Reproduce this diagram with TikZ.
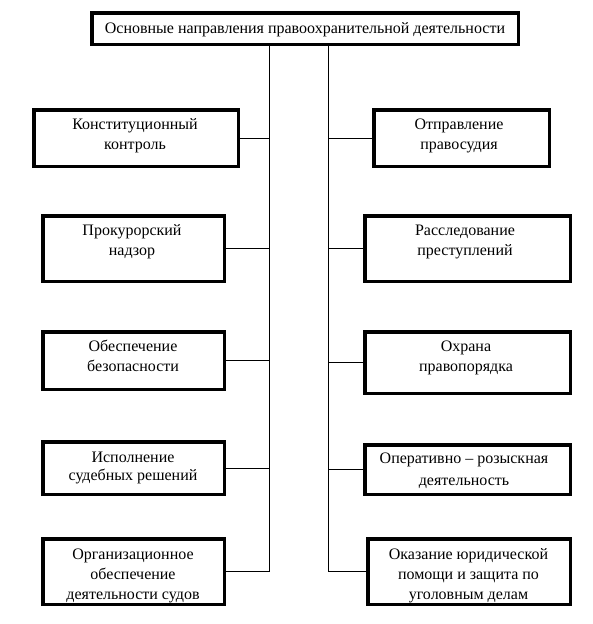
\documentclass[tikz,border=0pt]{standalone}
\usepackage{fontspec}
\setmainfont{Liberation Serif}
\begin{document}
\begin{tikzpicture}[x=1pt,y=-1pt,
  box/.style={draw, line width=3.5pt, inner sep=0pt},
  lbl/.style={align=center, inner sep=0pt, font=\fontsize{16}{20}\selectfont, anchor=north},
  con/.style={line width=1pt}]
\useasboundingbox[fill=white] (0,0) rectangle (592,624);
% boxes
\node[box, minimum width=426.5pt, minimum height=31.5pt] (top) at (305,28.5) {};
\node[box, minimum width=204.5pt, minimum height=56.5pt] (L1) at (136,138) {};
\node[box, minimum width=181.5pt, minimum height=65.5pt] (L2) at (133.5,248.5) {};
\node[box, minimum width=181.5pt, minimum height=57.5pt] (L3) at (133.5,360.5) {};
\node[box, minimum width=181.5pt, minimum height=52.5pt] (L4) at (133.5,468) {};
\node[box, minimum width=181.5pt, minimum height=65.5pt] (L5) at (133.5,571.5) {};
\node[box, minimum width=175.5pt, minimum height=56.5pt] (R1) at (461.5,138) {};
\node[box, minimum width=205.5pt, minimum height=65.5pt] (R2) at (467.5,248.5) {};
\node[box, minimum width=205.5pt, minimum height=61.5pt] (R3) at (467.5,362.5) {};
\node[box, minimum width=205.5pt, minimum height=49.5pt] (R4) at (467.5,469.5) {};
\node[box, minimum width=202.5pt, minimum height=65.5pt] (R5) at (469,571.5) {};
% texts
\node[lbl] (tT) at (305,19.5) {\strut Основные направления правоохранительной деятельности};
\node[lbl] (tL1) at (135,115) {\strut Конституционный\\контроль};
\node[lbl] (tL2) at (132,221) {\strut Прокурорский\\надзор};
\node[lbl] (tL3) at (133,337) {\strut Обеспечение\\безопасности};
\node[lbl] (tL4) at (133,448.5) {\strut Исполнение\\[-2pt]судебных решений};
\node[lbl] (tL5) at (133,545.5) {\strut Организационное\\обеспечение\\деятельности судов};
\node[lbl] (tR1) at (459,115) {\strut Отправление\\правосудия};
\node[lbl] (tR2) at (465,221) {\strut Расследование\\преступлений};
\node[lbl] (tR3) at (466,337) {\strut Охрана\\правопорядка};
\node[lbl] (tR4) at (464,449.5) {\strut Оперативно – розыскная\\[2pt]деятельность};
\node[lbl] (tR5) at (468.5,545.5) {\strut Оказание юридической\\помощи и защита по\\уголовным делам};
% trunks
\coordinate (lb) at (269,571.5);
\coordinate (rb) at (328,571.5);
\draw[con] (top.south -| lb) -- (lb);
\draw[con] (top.south -| rb) -- (rb);
% branches
\foreach \n in {L1,L2,L3,L4,L5} \draw[con] (\n.east) -- (\n.east -| lb);
\foreach \n in {R1,R2,R3,R4,R5} \draw[con] (\n.west) -- (\n.west -| rb);
\end{tikzpicture}
\end{document}
